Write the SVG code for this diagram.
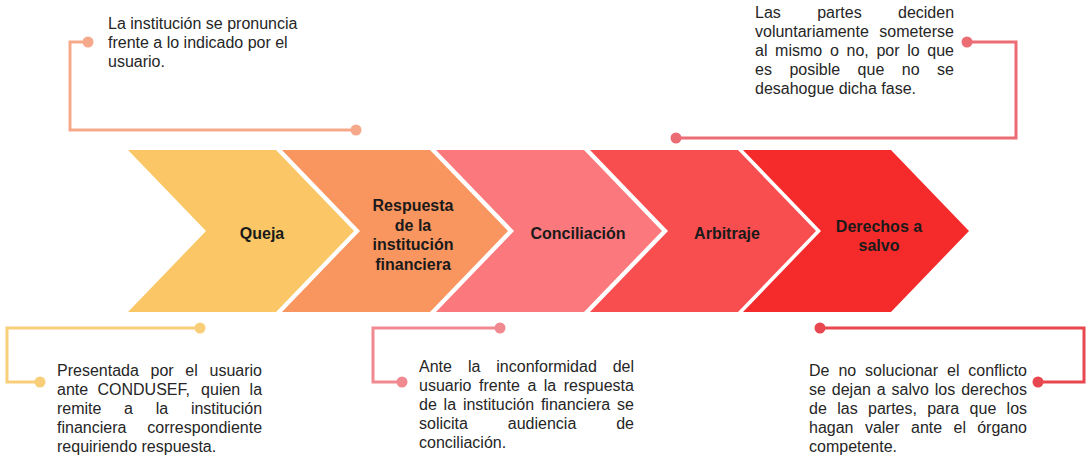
<svg xmlns="http://www.w3.org/2000/svg" width="1089" height="458" viewBox="0 0 1089 458">
<style>
.desc{font-family:"Liberation Sans",Arial,sans-serif;font-size:16px;fill:#262626}
.lbl{font-family:"Liberation Sans",Arial,sans-serif;font-size:16px;font-weight:bold;fill:#1a1a1a;text-anchor:middle}
.ln{fill:none;stroke-width:3}
</style>
<defs>
<path id="chev" d="M0,150 H148 L226,231 L148,312 H0 L78,231 Z"/>
</defs>
<rect width="1089" height="458" fill="#ffffff"/>
<g id="connectors">
<path class="ln" stroke="#F5A98A" d="M88,42 H70 V130 H356"/>
<circle cx="88" cy="42" r="5.5" fill="#F5A98A"/><circle cx="356" cy="130" r="5.5" fill="#F5A98A"/>
<path class="ln" stroke="#EC6C74" d="M967,42 H1016 V138 H676"/>
<circle cx="967" cy="42" r="5.5" fill="#EC6C74"/><circle cx="676" cy="138" r="5.5" fill="#EC6C74"/>
<path class="ln" stroke="#F8CF78" d="M200,328 H7 V382 H40"/>
<circle cx="200" cy="328" r="5.5" fill="#F8CF78"/><circle cx="40" cy="382" r="5.5" fill="#F8CF78"/>
<path class="ln" stroke="#F08A90" d="M500,328 H373 V382 H402"/>
<circle cx="500" cy="328" r="5.5" fill="#F08A90"/><circle cx="402" cy="382" r="5.5" fill="#F08A90"/>
<path class="ln" stroke="#E8474F" d="M820,328 H1084 V382 H1038"/>
<circle cx="820" cy="328" r="5.5" fill="#E8474F"/><circle cx="1038" cy="382" r="5.5" fill="#E8474F"/>
</g>
<g id="queja">
<use href="#chev" x="128" fill="#FBC766"/>
<text class="lbl" x="262" y="239">Queja</text>
</g>
<g id="respuesta">
<use href="#chev" x="282" fill="#F9955F"/>
<text class="lbl"><tspan x="413" y="211">Respuesta</tspan><tspan x="413" y="230.5">de la</tspan><tspan x="413" y="250">institución</tspan><tspan x="413" y="269.5">financiera</tspan></text>
</g>
<g id="conciliacion">
<use href="#chev" x="436" fill="#FB787D"/>
<text class="lbl" x="578" y="239">Conciliación</text>
</g>
<g id="arbitraje">
<use href="#chev" x="590" fill="#F84E50"/>
<text class="lbl" x="727" y="239">Arbitraje</text>
</g>
<g id="derechos">
<use href="#chev" x="743" fill="#F52B2B"/>
<text class="lbl"><tspan x="879" y="232">Derechos a</tspan><tspan x="879" y="251">salvo</tspan></text>
</g>
<g id="nota-respuesta">
<text class="desc"><tspan x="108" y="29">La institución se pronuncia</tspan><tspan x="108" y="48">frente a lo indicado por el</tspan><tspan x="108" y="67">usuario.</tspan></text>
</g>
<g id="nota-arbitraje">
<text class="desc" y="18"><tspan x="755">Las</tspan><tspan x="817.2">partes</tspan><tspan x="898">deciden</tspan></text>
<text class="desc" y="37"><tspan x="755">voluntariamente</tspan><tspan x="879.3">someterse</tspan></text>
<text class="desc" y="56"><tspan x="755">al</tspan><tspan x="775.1">mismo</tspan><tspan x="829.9">o</tspan><tspan x="846.5">no,</tspan><tspan x="876.4">por</tspan><tspan x="907.2">lo</tspan><tspan x="927.3">que</tspan></text>
<text class="desc" y="75"><tspan x="755">es</tspan><tspan x="789.4">posible</tspan><tspan x="857.6">que</tspan><tspan x="901.8">no</tspan><tspan x="937.1">se</tspan></text>
<text class="desc" x="755" y="94">desahogue dicha fase.</text>
</g>
<g id="nota-queja">
<text class="desc" y="376"><tspan x="57">Presentada</tspan><tspan x="150.5">por</tspan><tspan x="185.3">el</tspan><tspan x="209.5">usuario</tspan></text>
<text class="desc" y="395"><tspan x="57">ante</tspan><tspan x="97.5">CONDUSEF,</tspan><tspan x="201.1">quien</tspan><tspan x="249.6">la</tspan></text>
<text class="desc" y="414"><tspan x="57">remite</tspan><tspan x="124.1">a</tspan><tspan x="155.7">la</tspan><tspan x="190.9">institución</tspan></text>
<text class="desc" y="433"><tspan x="57">financiera</tspan><tspan x="147.3">correspondiente</tspan></text>
<text class="desc" x="57" y="452">requiriendo respuesta.</text>
</g>
<g id="nota-conciliacion">
<text class="desc" y="372"><tspan x="419">Ante</tspan><tspan x="467.9">la</tspan><tspan x="496.3">inconformidad</tspan><tspan x="612.7">del</tspan></text>
<text class="desc" y="391"><tspan x="419">usuario</tspan><tspan x="479">frente</tspan><tspan x="527.4">a</tspan><tspan x="543.8">la</tspan><tspan x="563.7">respuesta</tspan></text>
<text class="desc" y="410"><tspan x="419">de</tspan><tspan x="443.6">la</tspan><tspan x="462.9">institución</tspan><tspan x="540.9">financiera</tspan><tspan x="617.1">se</tspan></text>
<text class="desc" y="429"><tspan x="419">solicita</tspan><tspan x="507.8">audiencia</tspan><tspan x="616.2">de</tspan></text>
<text class="desc" x="419" y="448">conciliación.</text>
</g>
<g id="nota-derechos">
<text class="desc" y="376"><tspan x="809">De</tspan><tspan x="838.4">no</tspan><tspan x="865.1">solucionar</tspan><tspan x="947">el</tspan><tspan x="968.3">conflicto</tspan></text>
<text class="desc" y="395"><tspan x="809">se</tspan><tspan x="831.8">dejan</tspan><tspan x="876.8">a</tspan><tspan x="891.6">salvo</tspan><tspan x="934.8">los</tspan><tspan x="961.2">derechos</tspan></text>
<text class="desc" y="414"><tspan x="809">de</tspan><tspan x="837.2">las</tspan><tspan x="868">partes,</tspan><tspan x="927.2">para</tspan><tspan x="969.6">que</tspan><tspan x="1006.6">los</tspan></text>
<text class="desc" y="433"><tspan x="809">hagan</tspan><tspan x="864.9">valer</tspan><tspan x="911">ante</tspan><tspan x="953.5">el</tspan><tspan x="977.2">órgano</tspan></text>
<text class="desc" x="809" y="452">competente.</text>
</g>
</svg>
